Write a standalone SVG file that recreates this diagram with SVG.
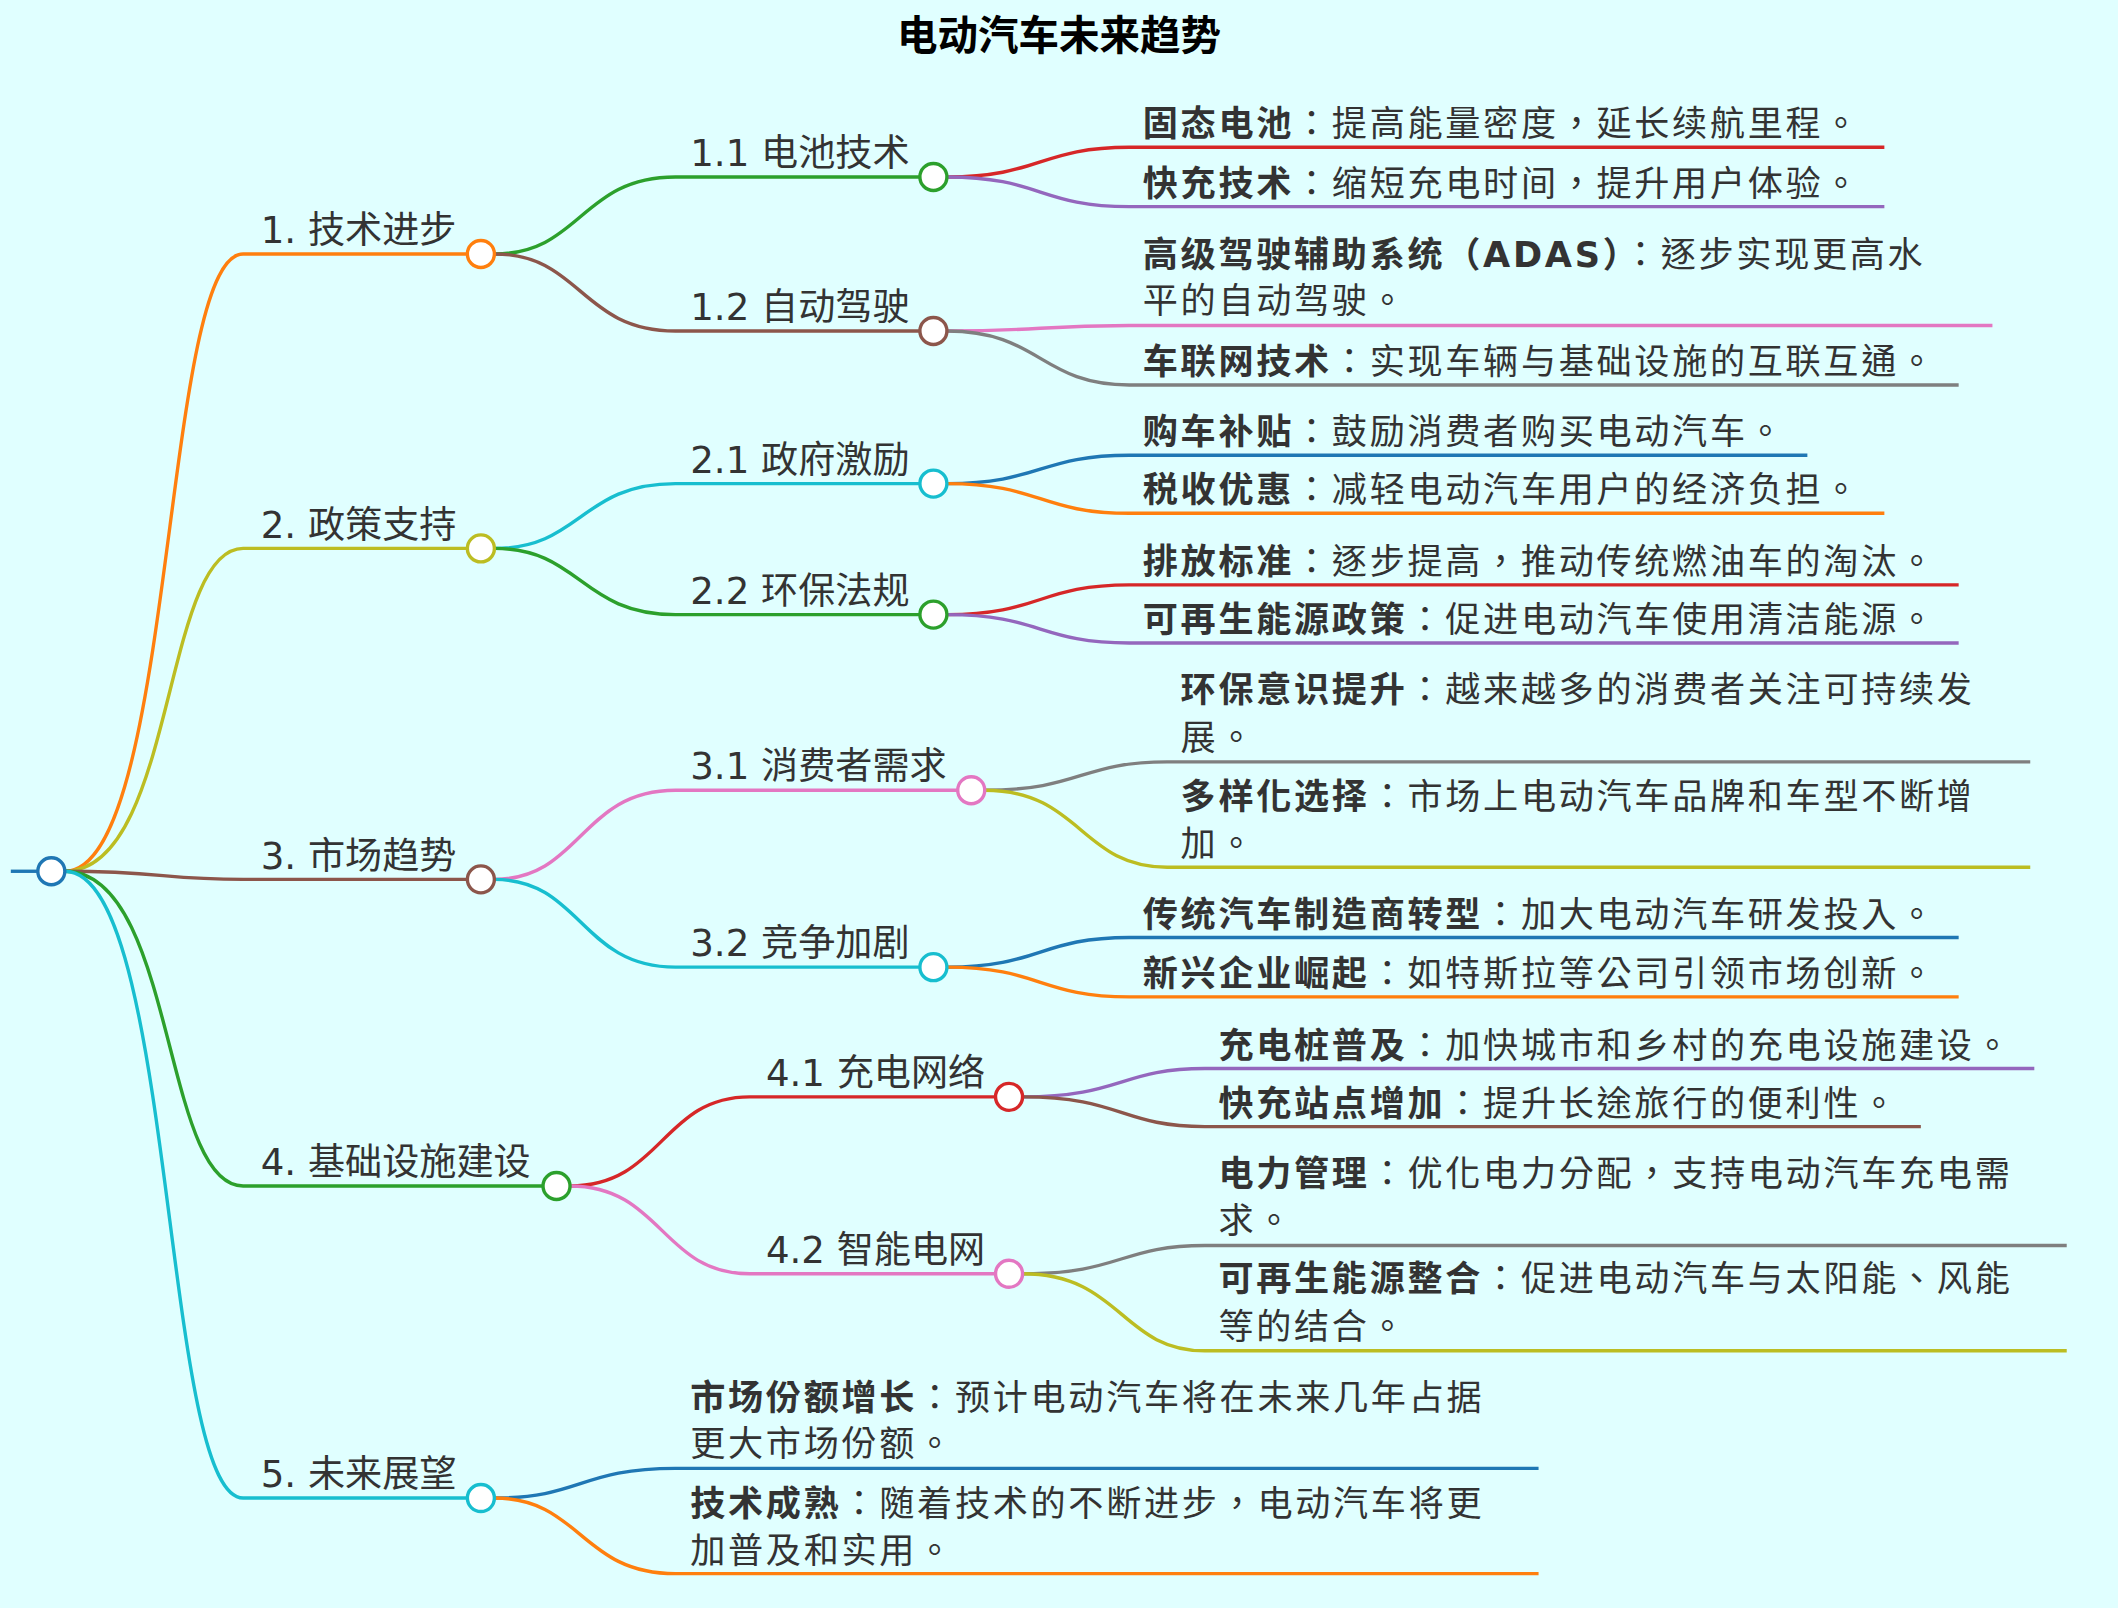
<svg xmlns="http://www.w3.org/2000/svg" width="2118" height="1608" viewBox="0 0 2118 1608">
<style>
text{font-family:"DejaVu Sans","Noto Sans CJK TC",sans-serif;fill:#333}
.t{font-size:30px;font-weight:bold;fill:#000}
.l{font-size:27.5px}
.f{font-size:26px;letter-spacing:2px}
.b{font-weight:bold}
path,line{fill:none;stroke-width:2.5}
circle{fill:#fff;stroke-width:2.5}
</style>
<rect width="2118" height="1608" fill="#e0ffff"/>
<g transform="scale(1.3508)">
<text class="t" x="784" y="37" text-anchor="middle">电动汽车未来趋势</text>
<g id="connectors">
<line x1="8" y1="645" x2="30" y2="645" stroke="#1f77b4"/>
<path d="M48 645 C130 645 120 188 180 188 L346 188" stroke="#ff7f0e"/>
<path d="M48 645 C130 645 120 406 180 406 L346 406" stroke="#bcbd22"/>
<path d="M48 645 C120 645 120 651 180 651 L346 651" stroke="#8c564b"/>
<path d="M48 645 C130 645 120 878 180 878 L402 878" stroke="#2ca02c"/>
<path d="M48 645 C130 645 120 1109 180 1109 L346 1109" stroke="#17becf"/>
<path d="M366 188 C430 188 430 131 500 131 L681 131" stroke="#2ca02c"/>
<path d="M366 188 C430 188 430 245 500 245 L681 245" stroke="#8c564b"/>
<path d="M366 406 C430 406 430 358 500 358 L681 358" stroke="#17becf"/>
<path d="M366 406 C430 406 430 455 500 455 L681 455" stroke="#2ca02c"/>
<path d="M366 651 C430 651 430 585 500 585 L709 585" stroke="#e377c2"/>
<path d="M366 651 C430 651 430 716 500 716 L681 716" stroke="#17becf"/>
<path d="M422 878 C490 878 490 812 555 812 L737 812" stroke="#d62728"/>
<path d="M422 878 C490 878 490 943 555 943 L737 943" stroke="#e377c2"/>
<path d="M366 1109 C430 1109 430 1087 500 1087 L1139 1087" stroke="#1f77b4"/>
<path d="M366 1109 C430 1109 430 1165 500 1165 L1139 1165" stroke="#ff7f0e"/>
<path d="M701 131 C770 131 770 109 836 109 L1395 109" stroke="#d62728"/>
<path d="M701 131 C770 131 770 153 836 153 L1395 153" stroke="#9467bd"/>
<path d="M701 245 C770 245 770 241 836 241 L1475 241" stroke="#e377c2"/>
<path d="M701 245 C770 245 770 285 836 285 L1450 285" stroke="#7f7f7f"/>
<path d="M701 358 C770 358 770 337 836 337 L1338 337" stroke="#1f77b4"/>
<path d="M701 358 C770 358 770 380 836 380 L1395 380" stroke="#ff7f0e"/>
<path d="M701 455 C770 455 770 433 836 433 L1450 433" stroke="#d62728"/>
<path d="M701 455 C770 455 770 476 836 476 L1450 476" stroke="#9467bd"/>
<path d="M729 585 C800 585 800 564 864 564 L1503 564" stroke="#7f7f7f"/>
<path d="M729 585 C800 585 800 642 864 642 L1503 642" stroke="#bcbd22"/>
<path d="M701 716 C770 716 770 694 836 694 L1450 694" stroke="#1f77b4"/>
<path d="M701 716 C770 716 770 738 836 738 L1450 738" stroke="#ff7f0e"/>
<path d="M757 812 C830 812 830 791 892 791 L1506 791" stroke="#9467bd"/>
<path d="M757 812 C830 812 830 834 892 834 L1422 834" stroke="#8c564b"/>
<path d="M757 943 C830 943 830 922 892 922 L1530 922" stroke="#7f7f7f"/>
<path d="M757 943 C830 943 830 1000 892 1000 L1530 1000" stroke="#bcbd22"/>
</g>
<g id="root"><circle cx="38" cy="645" r="10" stroke="#1f77b4"/></g>
<g id="n1"><text class="l" x="193" y="180">1. 技术进步</text><circle cx="356" cy="188" r="10" stroke="#ff7f0e"/></g>
<g id="n2"><text class="l" x="193" y="398">2. 政策支持</text><circle cx="356" cy="406" r="10" stroke="#bcbd22"/></g>
<g id="n3"><text class="l" x="193" y="643">3. 市场趋势</text><circle cx="356" cy="651" r="10" stroke="#8c564b"/></g>
<g id="n4"><text class="l" x="193" y="870">4. 基础设施建设</text><circle cx="412" cy="878" r="10" stroke="#2ca02c"/></g>
<g id="n5"><text class="l" x="193" y="1101">5. 未来展望</text><circle cx="356" cy="1109" r="10" stroke="#17becf"/></g>
<g id="n11"><text class="l" x="511" y="123">1.1 电池技术</text><circle cx="691" cy="131" r="10" stroke="#2ca02c"/></g>
<g id="n12"><text class="l" x="511" y="237">1.2 自动驾驶</text><circle cx="691" cy="245" r="10" stroke="#8c564b"/></g>
<g id="n21"><text class="l" x="511" y="350">2.1 政府激励</text><circle cx="691" cy="358" r="10" stroke="#17becf"/></g>
<g id="n22"><text class="l" x="511" y="447">2.2 环保法规</text><circle cx="691" cy="455" r="10" stroke="#2ca02c"/></g>
<g id="n31"><text class="l" x="511" y="577">3.1 消费者需求</text><circle cx="719" cy="585" r="10" stroke="#e377c2"/></g>
<g id="n32"><text class="l" x="511" y="708">3.2 竞争加剧</text><circle cx="691" cy="716" r="10" stroke="#17becf"/></g>
<g id="n41"><text class="l" x="567" y="804">4.1 充电网络</text><circle cx="747" cy="812" r="10" stroke="#d62728"/></g>
<g id="n42"><text class="l" x="567" y="935">4.2 智能电网</text><circle cx="747" cy="943" r="10" stroke="#e377c2"/></g>
<g id="leaf111"><text class="f" x="846" y="101"><tspan class="b">固态电池</tspan>：提高能量密度，延长续航里程。</text></g>
<g id="leaf112"><text class="f" x="846" y="145"><tspan class="b">快充技术</tspan>：缩短充电时间，提升用户体验。</text></g>
<g id="leaf121"><text class="f" x="846" y="198"><tspan class="b">高级驾驶辅助系统（ADAS）</tspan>：逐步实现更高水</text><text class="f" x="846" y="232">平的自动驾驶。</text></g>
<g id="leaf122"><text class="f" x="846" y="277"><tspan class="b">车联网技术</tspan>：实现车辆与基础设施的互联互通。</text></g>
<g id="leaf211"><text class="f" x="846" y="329"><tspan class="b">购车补贴</tspan>：鼓励消费者购买电动汽车。</text></g>
<g id="leaf212"><text class="f" x="846" y="372"><tspan class="b">税收优惠</tspan>：减轻电动汽车用户的经济负担。</text></g>
<g id="leaf221"><text class="f" x="846" y="425"><tspan class="b">排放标准</tspan>：逐步提高，推动传统燃油车的淘汰。</text></g>
<g id="leaf222"><text class="f" x="846" y="468"><tspan class="b">可再生能源政策</tspan>：促进电动汽车使用清洁能源。</text></g>
<g id="leaf311"><text class="f" x="874" y="520"><tspan class="b">环保意识提升</tspan>：越来越多的消费者关注可持续发</text><text class="f" x="874" y="555">展。</text></g>
<g id="leaf312"><text class="f" x="874" y="599"><tspan class="b">多样化选择</tspan>：市场上电动汽车品牌和车型不断增</text><text class="f" x="874" y="634">加。</text></g>
<g id="leaf321"><text class="f" x="846" y="686"><tspan class="b">传统汽车制造商转型</tspan>：加大电动汽车研发投入。</text></g>
<g id="leaf322"><text class="f" x="846" y="730"><tspan class="b">新兴企业崛起</tspan>：如特斯拉等公司引领市场创新。</text></g>
<g id="leaf411"><text class="f" x="902" y="783"><tspan class="b">充电桩普及</tspan>：加快城市和乡村的充电设施建设。</text></g>
<g id="leaf412"><text class="f" x="902" y="826"><tspan class="b">快充站点增加</tspan>：提升长途旅行的便利性。</text></g>
<g id="leaf421"><text class="f" x="902" y="878"><tspan class="b">电力管理</tspan>：优化电力分配，支持电动汽车充电需</text><text class="f" x="902" y="913">求。</text></g>
<g id="leaf422"><text class="f" x="902" y="956"><tspan class="b">可再生能源整合</tspan>：促进电动汽车与太阳能、风能</text><text class="f" x="902" y="991">等的结合。</text></g>
<g id="leaf51"><text class="f" x="511" y="1044"><tspan class="b">市场份额增长</tspan>：预计电动汽车将在未来几年占据</text><text class="f" x="511" y="1078">更大市场份额。</text></g>
<g id="leaf52"><text class="f" x="511" y="1122"><tspan class="b">技术成熟</tspan>：随着技术的不断进步，电动汽车将更</text><text class="f" x="511" y="1157">加普及和实用。</text></g>
</g>
</svg>
